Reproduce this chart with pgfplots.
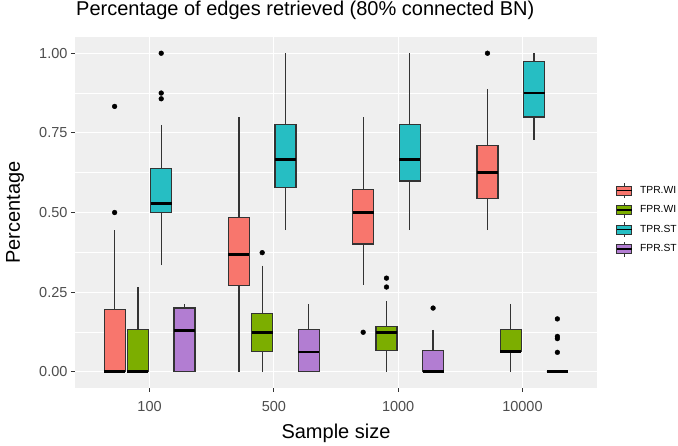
\documentclass[border=0pt]{standalone}
\usepackage{fontspec}
\setmainfont{Liberation Sans}
\usepackage{pgfplots}
\pgfplotsset{compat=1.18}
\usepgfplotslibrary{statistics}

\definecolor{cRed}{HTML}{F8766D}
\definecolor{cGreen}{HTML}{7CAE00}
\definecolor{cCyan}{HTML}{26BEC3}
\definecolor{cPurple}{HTML}{B27DD2}
\definecolor{panel}{HTML}{EFEFEF}
\definecolor{boxline}{HTML}{333333}
\definecolor{ticktext}{HTML}{4D4D4D}

% legend key: small boxplot glyph
\newcommand\boxkeydraw[1]{%
  \draw[line width=0.9pt, draw=boxline] (7.5pt,-7.5pt) -- (7.5pt,7.5pt);
  \draw[fill=#1, draw=boxline, line width=0.9pt] (0pt,-4.5pt) rectangle (15pt,4.5pt);
  \draw[line width=1.6pt, black] (0pt,0pt) -- (15pt,0pt);}

\pgfplotsset{
  boxkey/.style={legend image code/.code={\boxkeydraw{#1}}},
  bx/.style={fill=#1, draw=boxline, line width=1.2pt, forget plot,
    mark=*, mark size=2.4pt, mark options={solid, fill=black, draw=black, line width=0.4pt}},
}

\begin{document}
\begin{tikzpicture}
\begin{axis}[
  scale only axis, width=522pt, height=350.4pt,
  xmin=0.4, xmax=4.6, ymin=-0.05, ymax=1.05,
  xtick={1,2,3,4}, xticklabels={100,500,1000,10000},
  ytick={0,0.25,0.5,0.75,1},
  minor ytick={0.125,0.375,0.625,0.875},
  yticklabel style={/pgf/number format/.cd, fixed, fixed zerofill, precision=2},
  /pgf/number format/assume math mode=true,
  tick label style={font=\fontsize{14.5}{17}\selectfont, text=ticktext},
  xticklabel style={yshift=-6pt},
  axis background/.style={fill=panel},
  axis line style={draw=none},
  xmajorgrids, ymajorgrids, yminorgrids,
  major grid style={white, line width=1.1pt},
  minor grid style={white, line width=0.55pt},
  tick align=outside, tick pos=left,
  major tick length=4pt, minor tick length=0pt,
  tick style={draw=boxline, line width=1.1pt},
  boxplot/draw direction=y,
  boxplot/box extend=0.169,
  boxplot/whisker extend=0,
  boxplot/every box/.style={draw=boxline, line width=1.2pt},
  boxplot/every whisker/.style={draw=boxline, line width=1.2pt},
  boxplot/every median/.style={line width=2.6pt, draw=black},
  title={Percentage of edges retrieved (80\% connected BN)},
  title style={at={(axis description cs:0.002,1.0465)}, anchor=base west, inner sep=0pt,
    font=\fontsize{20}{24}\selectfont},
  xlabel={Sample size},
  xlabel style={at={(axis description cs:0.5,-0.1464)}, anchor=base, inner sep=0pt,
    font=\fontsize{20}{24}\selectfont},
  ylabel={Percentage},
  ylabel style={at={(axis description cs:-0.1054,0.5)}, anchor=base, inner sep=0pt,
    font=\fontsize{20}{24}\selectfont},
  legend style={at={(axis description cs:1.036,0.479)}, anchor=west, draw=none, fill=none,
    font=\fontsize{10.3}{12}\selectfont, row sep=3.6pt, inner sep=0pt,
    /tikz/every odd column/.style={column sep=5.5pt}},
  legend cell align=left,
]
\addlegendimage{boxkey=cRed}\addlegendentry{TPR.WI}
\addlegendimage{boxkey=cGreen}\addlegendentry{FPR.WI}
\addlegendimage{boxkey=cCyan}\addlegendentry{TPR.ST}
\addlegendimage{boxkey=cPurple}\addlegendentry{FPR.ST}

% ---- sample size 100
\addplot[bx=cRed, boxplot prepared={draw position=0.71875, lower whisker=0, lower quartile=0,
  median=0, upper quartile=0.195, upper whisker=0.444}]
  table[row sep=\\, y index=0] {v\\0.5\\0.833\\};
\addplot[bx=cGreen, boxplot prepared={draw position=0.90625, lower whisker=0, lower quartile=0,
  median=0, upper quartile=0.133, upper whisker=0.266}] coordinates {};
\addplot[bx=cCyan, boxplot prepared={draw position=1.09375, lower whisker=0.334, lower quartile=0.5,
  median=0.528, upper quartile=0.637, upper whisker=0.775}]
  table[row sep=\\, y index=0] {v\\0.857\\0.875\\1.0\\};
\addplot[bx=cPurple, boxplot prepared={draw position=1.28125, lower whisker=0, lower quartile=0,
  median=0.129, upper quartile=0.2, upper whisker=0.213}] coordinates {};

% ---- sample size 500
\addplot[bx=cRed, boxplot prepared={draw position=1.71875, lower whisker=0, lower quartile=0.272,
  median=0.369, upper quartile=0.485, upper whisker=0.799}] coordinates {};
\addplot[bx=cGreen, boxplot prepared={draw position=1.90625, lower whisker=0, lower quartile=0.063,
  median=0.124, upper quartile=0.184, upper whisker=0.333}]
  table[row sep=\\, y index=0] {v\\0.374\\};
\addplot[bx=cCyan, boxplot prepared={draw position=2.09375, lower whisker=0.445, lower quartile=0.578,
  median=0.667, upper quartile=0.777, upper whisker=1.0}] coordinates {};
\addplot[bx=cPurple, boxplot prepared={draw position=2.28125, lower whisker=0, lower quartile=0,
  median=0.062, upper quartile=0.133, upper whisker=0.213}] coordinates {};

% ---- sample size 1000
\addplot[bx=cRed, boxplot prepared={draw position=2.71875, lower whisker=0.273, lower quartile=0.401,
  median=0.5, upper quartile=0.571, upper whisker=0.799}]
  table[row sep=\\, y index=0] {v\\0.124\\};
\addplot[bx=cGreen, boxplot prepared={draw position=2.90625, lower whisker=0, lower quartile=0.066,
  median=0.124, upper quartile=0.143, upper whisker=0.221}]
  table[row sep=\\, y index=0] {v\\0.266\\0.294\\};
\addplot[bx=cCyan, boxplot prepared={draw position=3.09375, lower whisker=0.445, lower quartile=0.599,
  median=0.667, upper quartile=0.777, upper whisker=1.0}] coordinates {};
\addplot[bx=cPurple, boxplot prepared={draw position=3.28125, lower whisker=0, lower quartile=0,
  median=0, upper quartile=0.066, upper whisker=0.132}]
  table[row sep=\\, y index=0] {v\\0.2\\};

% ---- sample size 10000
\addplot[bx=cRed, boxplot prepared={draw position=3.71875, lower whisker=0.445, lower quartile=0.545,
  median=0.625, upper quartile=0.710, upper whisker=0.888}]
  table[row sep=\\, y index=0] {v\\1.0\\};
\addplot[bx=cGreen, boxplot prepared={draw position=3.90625, lower whisker=0, lower quartile=0.064,
  median=0.064, upper quartile=0.133, upper whisker=0.213}] coordinates {};
\addplot[bx=cCyan, boxplot prepared={draw position=4.09375, lower whisker=0.728, lower quartile=0.8,
  median=0.875, upper quartile=0.975, upper whisker=1.0}] coordinates {};
\addplot[bx=cPurple, boxplot prepared={draw position=4.28125, lower whisker=0, lower quartile=0,
  median=0, upper quartile=0, upper whisker=0}]
  table[row sep=\\, y index=0] {v\\0.061\\0.104\\0.111\\0.166\\};
\end{axis}
\pgfresetboundingbox
\path[use as bounding box] (-75pt,-57.3pt) rectangle (603pt,387.7pt);
\end{tikzpicture}
\end{document}
